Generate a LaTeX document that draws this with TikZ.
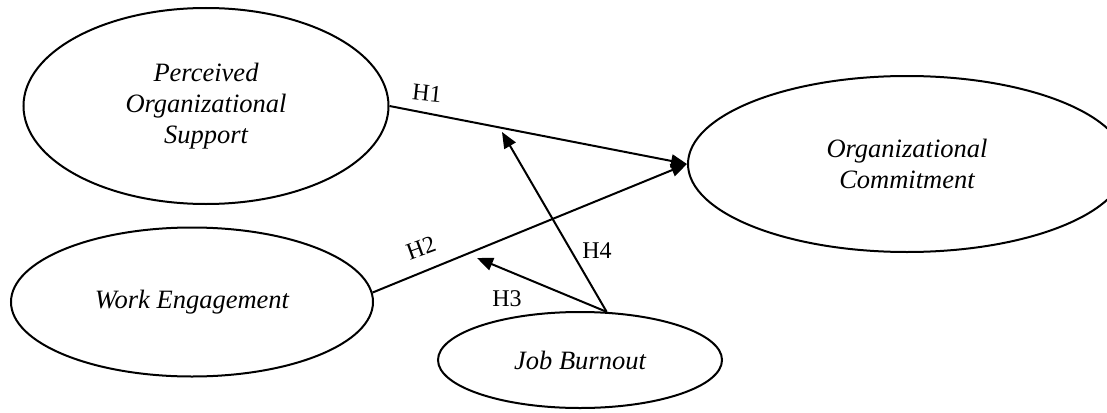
\documentclass[tikz,border=0pt]{standalone}
\usepackage{fontspec}
\setmainfont{Liberation Serif}
\usetikzlibrary{shapes.geometric,arrows.meta}
\begin{document}
\begin{tikzpicture}[x=1pt,y=-1pt,
  construct/.style={draw, ellipse, line width=2pt, inner sep=0pt, align=center,
    font=\fontsize{26.5}{31}\selectfont\itshape},
  arr/.style={line width=2pt, -{Triangle[length=16pt,width=13pt]}},
  hlab/.style={font=\fontsize{24}{28}\selectfont, inner sep=0pt}]
\useasboundingbox (0,0) rectangle (1107,412);
\node[construct, minimum width=365pt, minimum height=196pt] (pos) at (206,106) {Perceived\\Organizational\\Support};
\node[construct, minimum width=438pt, minimum height=176pt] (oc) at (907,164) {Organizational\\Commitment};
\node[construct, minimum width=362pt, minimum height=149pt] (we) at (192,302) {Work Engagement};
\node[construct, minimum width=284pt, minimum height=96pt] (jb) at (580,360) {Job Burnout};
\coordinate (t4) at (502,132);
\coordinate (t3) at (477,258);
\draw[arr] (pos.east) -- (oc.west);
\draw[arr] (we.3) -- (oc.west);
\draw[arr] (jb.61) -- (t4);
\draw[arr] (jb.61) -- (t3);
\node[hlab, rotate=20] (h2) at (421,248) {H2};
\node[hlab, rotate=-6] (h1) at (427,93) {H1};
\node[hlab] (h3) at (507,299) {H3};
\node[hlab] (h4) at (597,251) {H4};
\end{tikzpicture}
\end{document}
